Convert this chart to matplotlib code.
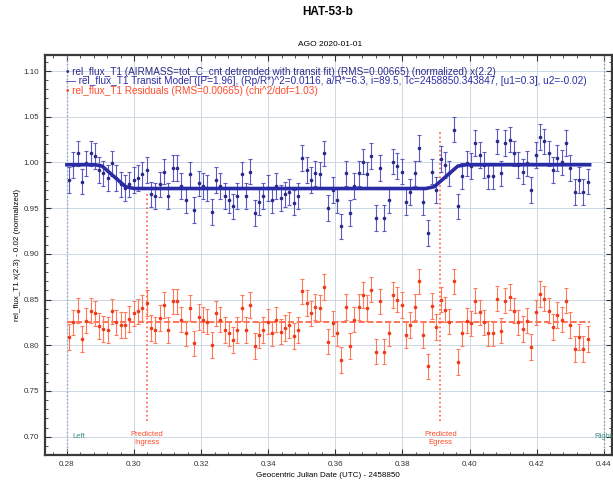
"""
HAT-53-b transit light curve (AstroImageJ style)
"""
import matplotlib.pyplot as plt
import numpy as np

plt.rcParams['font.family'] = ['Liberation Sans', 'DejaVu Sans']

# observation window (days, JD - 2458850)
t_start = 0.2806
t_end = 0.4352

flux = [0.981, 0.997, 1.010, 0.979, 0.999, 1.010, 1.007, 0.992, 0.988, 0.983,
        0.999, 0.983, 0.976, 0.972, 0.976, 0.981, 0.983, 0.987, 0.992, 0.965,
        0.963, 0.976, 0.990, 0.963, 0.994, 0.994, 0.974, 0.959, 0.987, 0.948,
        0.977, 0.974, 0.972, 0.946, 0.981, 0.974, 0.963, 0.959, 0.952, 0.963,
        0.987, 0.963, 0.990, 0.945, 0.957, 0.963, 0.972, 0.959, 0.974, 0.961,
        0.965, 0.968, 0.956, 0.963, 1.005, 0.992, 0.981, 0.988, 0.987, 1.010,
        0.950, 0.970, 0.959, 0.930, 0.988, 0.945, 0.974, 0.988, 1.001, 0.987,
        1.007, 0.939, 0.994, 0.939, 0.959, 1.001, 0.996,
        0.990, 0.957, 0.968, 0.988, 1.016, 0.957, 0.923, 0.990, 0.970, 1.004,
        0.997, 0.988, 1.036, 0.952, 0.985, 0.999, 0.996, 1.021, 1.008, 0.997,
        0.985, 0.985, 1.023, 0.988, 1.021, 1.025, 1.010, 0.997, 0.990, 0.999,
        0.970, 1.008, 1.028, 1.023, 1.010, 0.992, 1.005, 1.000, 1.021, 0.994,
        0.968, 0.981, 0.968, 0.979]

resid = [0.809, 0.825, 0.838, 0.807, 0.827, 0.838, 0.835, 0.821, 0.818, 0.817,
         0.837, 0.825, 0.822, 0.822, 0.829, 0.835, 0.837, 0.841, 0.846, 0.819,
         0.817, 0.830, 0.844, 0.817, 0.848, 0.848, 0.828, 0.813, 0.841, 0.802,
         0.831, 0.828, 0.826, 0.800, 0.835, 0.828, 0.817, 0.813, 0.806, 0.817,
         0.841, 0.817, 0.844, 0.799, 0.811, 0.817, 0.826, 0.813, 0.828, 0.815,
         0.819, 0.822, 0.810, 0.817, 0.859, 0.846, 0.835, 0.842, 0.841, 0.864,
         0.804, 0.824, 0.813, 0.784, 0.842, 0.799, 0.828, 0.842, 0.855, 0.841,
         0.861, 0.793, 0.848, 0.793, 0.813, 0.855, 0.850,
         0.844, 0.811, 0.822, 0.842, 0.870, 0.811, 0.777, 0.843, 0.820, 0.850,
         0.839, 0.826, 0.870, 0.782, 0.813, 0.827, 0.824, 0.849, 0.836, 0.825,
         0.813, 0.813, 0.851, 0.816, 0.849, 0.853, 0.838, 0.825, 0.818, 0.827,
         0.798, 0.836, 0.856, 0.851, 0.838, 0.820, 0.833, 0.828, 0.849, 0.822,
         0.796, 0.809, 0.796, 0.807]

flux_err = 0.014

# transit model drawn through its shape points
model_t = [0.2800, 0.2885, 0.2905, 0.2975, 0.3000, 0.3870, 0.3895, 0.3965, 0.3990, 0.4358]
model_f = [0.9975, 0.9975, 0.9960, 0.9735, 0.9715, 0.9715, 0.9735, 0.9960, 0.9975, 0.9975]
resid_base = 0.8255

t_left = 0.28
t_right = 0.44
t_ingress = 0.3039
t_egress = 0.3913

t = np.linspace(t_start, t_end, len(flux))

fig = plt.figure(figsize=(6.13, 4.83), dpi=100)
ax = fig.add_axes([0.073, 0.058, 0.925, 0.828])

ax.grid(True, color='#cdd8e6', lw=0.7)
ax.set_axisbelow(True)

# left / right markers and predicted ingress / egress
ax.axvline(t_left, color='#8fa6c4', ls=':', lw=1.0)
ax.axvline(t_right, color='#8f9aa8', ls=':', lw=1.0)
ax.plot([t_ingress, t_ingress], [0.717, 0.965], color='#ff5a3a', ls=':', lw=1.2)
ax.plot([t_egress, t_egress], [0.717, 1.036], color='#ff5a3a', ls=':', lw=1.2)

ax.errorbar(t, flux, yerr=flux_err, fmt='o', ms=1.6, color='#2a2a86',
            ecolor='#5a5ac0', elinewidth=0.8, capsize=1.6, capthick=0.8, zorder=3)
ax.plot(model_t, model_f, color='#2b2ba6', lw=2.6, zorder=4)

ax.plot([t_start - 0.0006, t_end + 0.0006], [resid_base, resid_base],
        color='#ff5a3a', ls='--', lw=1.2, zorder=2)
ax.errorbar(t, resid, yerr=flux_err, fmt='o', ms=1.6, color='#f03a1a',
            ecolor='#ff7a5a', elinewidth=0.8, capsize=1.6, capthick=0.8, zorder=3)

ax.text(0.2815, 0.700, 'Left', color='#3d8c84', fontsize=5.5, va='center')
ax.text(0.4373, 0.700, 'Right', color='#3d8c84', fontsize=5.5, va='center', clip_on=False)
ax.text(t_ingress, 0.698, 'Predicted\nIngress', color='#ff4a2a', fontsize=5.5,
        ha='center', va='center', linespacing=1.3)
ax.text(t_egress, 0.698, 'Predicted\nEgress', color='#ff4a2a', fontsize=5.5,
        ha='center', va='center', linespacing=1.3)

legend_rows = [
    ('\u2022 rel_flux_T1 (AIRMASS=tot_C_cnt detrended with transit fit) (RMS=0.00665) (normalized) x(2.2)', '#2a2a86'),
    ('\u2014 rel_flux_T1 Transit Model ([P=1.96], (Rp/R*)^2=0.0116, a/R*=6.3, i=89.5, Tc=2458850.343847, [u1=0.3], u2=-0.02)', '#2b2ba6'),
    ('\u2022 rel_flux_T1 Residuals (RMS=0.00665) (chi^2/dof=1.03)', '#ff4a2a'),
]
for k, (txt, col) in enumerate(legend_rows):
    ax.text(0.038, 0.958 - k * 0.024, txt, transform=ax.transAxes,
            color=col, fontsize=7.2, va='center')

ax.set_xlim(0.2734, 0.4424)
ax.set_ylim(0.680, 1.1175)
ax.set_xticks(np.arange(0.28, 0.4401, 0.02))
ax.set_yticks(np.arange(0.70, 1.1001, 0.05))
ax.set_xticks(np.arange(0.276, 0.4424, 0.004), minor=True)
ax.set_yticks(np.arange(0.69, 1.115, 0.01), minor=True)
ax.xaxis.set_major_formatter(plt.FormatStrFormatter('%.2f'))
ax.yaxis.set_major_formatter(plt.FormatStrFormatter('%.2f'))
ax.tick_params(which='both', direction='in', top=True, right=True,
               labelsize=5.8, colors='#333333', pad=4)
ax.tick_params(which='major', length=4, width=0.8)
ax.tick_params(which='minor', length=2, width=0.6)
for s in ax.spines.values():
    s.set_linewidth(1.6)
    s.set_color('#3a3a3a')

ax.set_xlabel('Geocentric Julian Date (UTC) - 2458850', fontsize=5.8, labelpad=3)
ax.set_ylabel('rel_flux_T1 x(2.3) - 0.02 (normalized)', fontsize=5.8, labelpad=2)

fig.text(0.535, 0.975, 'HAT-53-b', ha='center', va='center', fontsize=8.5, fontweight='bold')
fig.text(0.538, 0.907, 'AGO 2020-01-01', ha='center', va='center', fontsize=6)

plt.savefig('out.png', dpi=100)
